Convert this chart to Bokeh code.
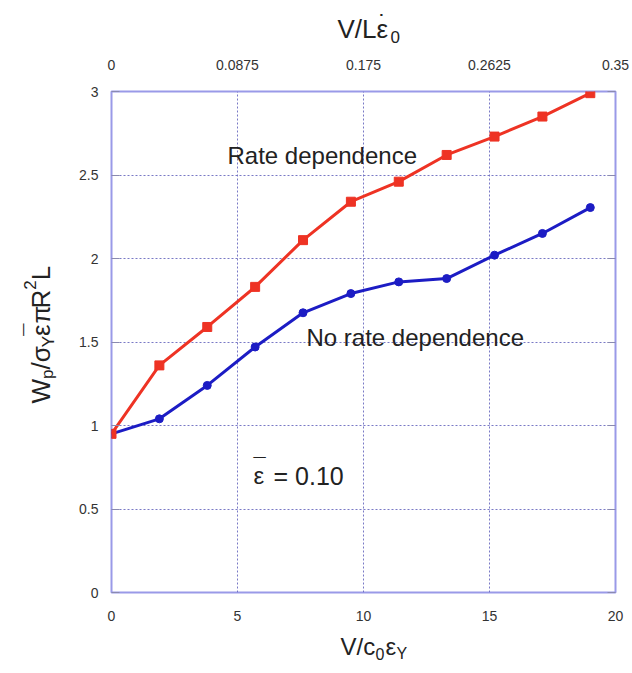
import math
from bokeh.plotting import figure
from bokeh.models import Range1d, LinearAxis, FixedTicker, Label
from bokeh.layouts import column, row
from bokeh.embed import file_html
from bokeh.resources import INLINE

# ---- data ----
v_c0ey = [0, 1.9, 3.8, 5.7, 7.6, 9.5, 11.4, 13.3, 15.2, 17.1, 19.0]
rate_dep = [0.95, 1.36, 1.59, 1.83, 2.11, 2.34, 2.46, 2.62, 2.73, 2.85, 2.99]
no_rate_dep = [0.95, 1.04, 1.24, 1.47, 1.675, 1.79, 1.86, 1.88, 2.02, 2.15, 2.305]

x_ticks = [0, 5, 10, 15, 20]
y_ticks = [0, 0.5, 1, 1.5, 2, 2.5, 3]
y_tick_labels = ["0", "0.5", "1", "1.5", "2", "2.5", "3"]
top_ticks = [0, 0.0875, 0.175, 0.2625, 0.35]
top_tick_labels = ["0", "0.0875", "0.175", "0.2625", "0.35"]

FONT = "Liberation Sans"
FRAME = "#9a9ae8"
GRID = "#6a6ac0"
TICKTXT = "#333333"
TXT = "#222222"
RED = "#ee3324"
BLUE = "#1c1cc4"

W, H = 632, 673
TOP_H, BOT_H, LEFT_W = 50, 48, 60
MAIN_W, MAIN_H = W - LEFT_W, H - TOP_H - BOT_H   # 572 x 575

# ---------------- main plot ----------------
p = figure(width=MAIN_W, height=MAIN_H, output_backend="svg", toolbar_location=None,
           x_range=Range1d(0, 20), y_range=Range1d(0, 3),
           min_border_left=51, min_border_right=17,
           min_border_top=41, min_border_bottom=33)
p.extra_x_ranges = {"top": Range1d(0, 0.35)}
p.outline_line_color = FRAME
p.outline_line_width = 2

for g in (p.xgrid, p.ygrid):
    g.grid_line_color = GRID
    g.grid_line_dash = "2 2"
    g.grid_line_width = 1
    g.grid_line_alpha = 0.9
p.xgrid.ticker = FixedTicker(ticks=x_ticks)
p.ygrid.ticker = FixedTicker(ticks=y_ticks)

xa = p.xaxis[0]
xa.ticker = FixedTicker(ticks=x_ticks)
xa.axis_line_color = None
xa.major_tick_line_color = None
xa.minor_tick_line_color = None
xa.major_label_text_font = FONT
xa.major_label_text_font_size = "14px"
xa.major_label_text_color = TICKTXT
xa.major_label_standoff = 12

ya = p.yaxis[0]
ya.ticker = FixedTicker(ticks=y_ticks)
ya.major_label_overrides = {t: s for t, s in zip(y_ticks, y_tick_labels)}
ya.axis_line_color = None
ya.major_tick_line_color = "#8a8ab0"
ya.major_tick_in = 8
ya.major_tick_out = 0
ya.minor_tick_line_color = None
ya.major_label_text_font = FONT
ya.major_label_text_font_size = "14px"
ya.major_label_text_color = TICKTXT
ya.major_label_standoff = 13

ta = LinearAxis(x_range_name="top", ticker=FixedTicker(ticks=top_ticks))
ta.major_label_overrides = {t: s for t, s in zip(top_ticks, top_tick_labels)}
ta.axis_line_color = None
ta.major_tick_line_color = None
ta.minor_tick_line_color = None
ta.major_label_text_font = FONT
ta.major_label_text_font_size = "14px"
ta.major_label_text_color = TICKTXT
ta.major_label_standoff = 16
p.add_layout(ta, "above")

ra = LinearAxis(ticker=FixedTicker(ticks=y_ticks))
ra.axis_line_color = None
ra.major_tick_line_color = "#8a8ab0"
ra.major_tick_in = 8
ra.major_tick_out = 0
ra.minor_tick_line_color = None
ra.major_label_overrides = {t: " " for t in y_ticks}
ra.major_label_text_font_size = "1px"
ra.major_label_standoff = 0
p.add_layout(ra, "right")

p.line(v_c0ey, no_rate_dep, line_color=BLUE, line_width=3)
p.scatter(v_c0ey, no_rate_dep, marker="circle", size=8, fill_color=BLUE, line_color=BLUE)
p.line(v_c0ey, rate_dep, line_color=RED, line_width=3)
p.scatter(v_c0ey, rate_dep, marker="square", size=9, fill_color=RED, line_color=RED)


def blank(w, h):
    f = figure(width=w, height=h, output_backend="svg", toolbar_location=None,
               x_axis_location=None, y_axis_location=None,
               x_range=Range1d(0, 1), y_range=Range1d(0, 1),
               min_border=0)
    f.outline_line_color = None
    f.xgrid.visible = False
    f.ygrid.visible = False
    return f


top_fig = blank(W, TOP_H)
left_fig = blank(LEFT_W, MAIN_H)
bot_fig = blank(W, BOT_H)

# origin of each figure in page pixels
ORIG = {id(top_fig): (0, 0), id(left_fig): (0, TOP_H),
        id(p): (LEFT_W, TOP_H), id(bot_fig): (0, TOP_H + MAIN_H)}


def txt(fig, s, px, py, size, angle=0.0, align="left", color=TXT):
    ox, oy = ORIG[id(fig)]
    fig.add_layout(Label(x=px - ox, y=py - oy, x_units="canvas", y_units="canvas",
                         text=s, text_font=FONT, text_font_size=f"{size}px",
                         text_color=color, angle=angle, text_align=align,
                         text_baseline="alphabetic"))


# annotations in the plot (page pixel positions)
txt(p, "Rate dependence", 227, 155, 24)
txt(p, "No rate dependence", 306, 337, 24)
txt(p, "\u03b5", 253, 475, 24)
txt(p, "\u00af", 259, 466, 22, align="center")
txt(p, "= 0.10", 273, 475, 25)

# top axis title: V/L eps-dot 0
txt(top_fig, "V/L", 337, 28, 26)
txt(top_fig, "\u03b5", 376, 28, 26)
txt(top_fig, "\u02d9", 382, 22, 24, align="center")
txt(top_fig, "0", 390, 36, 17)

# bottom axis title: V/c0 eps_Y
txt(bot_fig, "V/c", 340, 646, 24)
txt(bot_fig, "0", 375, 653, 16)
txt(bot_fig, "\u03b5", 385, 646, 24)
txt(bot_fig, "Y", 396, 653, 16)

# left axis title, rotated: W_p / sigma_Y eps-bar pi R^2 L
rot = math.pi / 2
bx = 40
pieces = [
    ("W", 26, 0, 24.5),
    ("p", 17, 7, 9.5),
    ("/", 26, 0, 7.2),
    ("\u03c3", 26, 0, 15.0),
    ("Y", 17, 8, 11.3),
    ("\u03b5", 26, 0, 12.5),
    ("\u03c0", 26, 0, 15.0),
    ("R", 26, 0, 18.8),
    ("2", 17, -11, 9.5),
    ("L", 26, 0, 14.5),
]
py = 403
for s, size, shift, adv in pieces:
    txt(left_fig, s, bx + shift, py, size, angle=rot)
    if s == "\u03b5":
        txt(left_fig, "\u00af", bx - 8, py - adv / 2, 22, angle=rot, align="center")
    py -= adv

layout = column(top_fig, row(left_fig, p), bot_fig)
open("out.html", "w").write(file_html(layout, INLINE))
